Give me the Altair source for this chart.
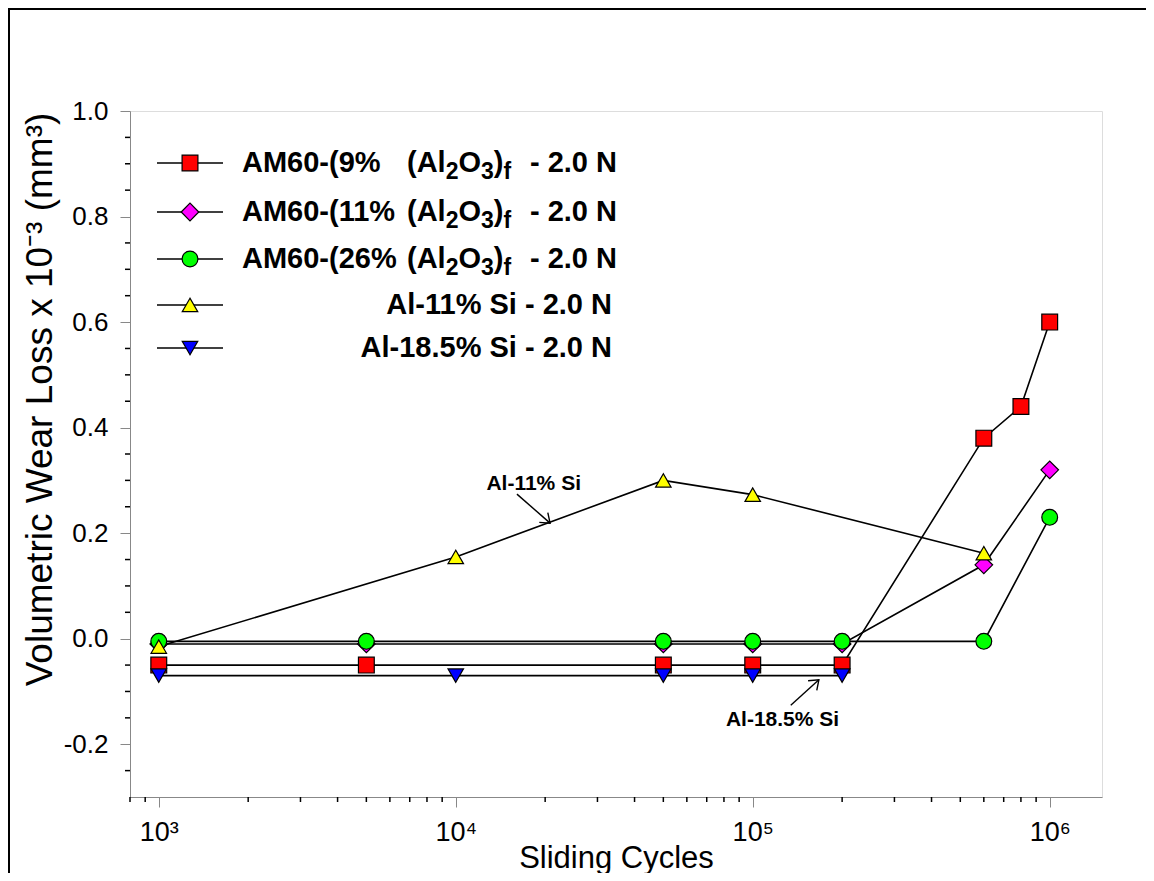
import altair as alt
import pandas as pd

# ---------------- data ----------------
series_keys = ["AM60-9", "AM60-11", "AM60-26", "Al-11Si", "Al-18.5Si"]

am60_9_x = [1e3, 5e3, 5e4, 1e5, 2e5, 6e5, 8e5, 1e6]
am60_9_y = [-0.05, -0.05, -0.05, -0.05, -0.05, 0.38, 0.44, 0.60]
am60_11_x = [1e3, 5e3, 5e4, 1e5, 2e5, 6e5, 1e6]
am60_11_y = [-0.01, -0.01, -0.01, -0.01, -0.01, 0.14, 0.32]
am60_26_x = [1e3, 5e3, 5e4, 1e5, 2e5, 6e5, 1e6]
am60_26_y = [-0.005, -0.005, -0.005, -0.005, -0.005, -0.005, 0.23]
al11_x = [1e3, 1e4, 5e4, 1e5, 6e5]
al11_y = [-0.015, 0.155, 0.30, 0.273, 0.162]
al185_x = [1e3, 1e4, 5e4, 1e5, 2e5]
al185_y = [-0.07, -0.07, -0.07, -0.07, -0.07]

series_x = [am60_9_x, am60_11_x, am60_26_x, al11_x, al185_x]
series_y = [am60_9_y, am60_11_y, am60_26_y, al11_y, al185_y]

x_tick_values = [1e3, 1e4, 1e5, 1e6]
x_tick_labels = ["10³", "10⁴", "10⁵", "10⁶"]
x_minor_ticks = [800, 900, 2000, 3000, 4000, 5000, 6000, 7000, 8000, 9000,
                 20000, 30000, 40000, 50000, 60000, 70000, 80000, 90000,
                 200000, 300000, 400000, 500000, 600000, 700000, 800000, 900000]
y_tick_values = [-0.2, 0.0, 0.2, 0.4, 0.6, 0.8, 1.0]
y_minor_ticks = [-0.25, -0.15, -0.1, -0.05, 0.05, 0.1, 0.15, 0.25, 0.3, 0.35,
                 0.45, 0.5, 0.55, 0.65, 0.7, 0.75, 0.85, 0.9, 0.95]

annot_labels = ["Al-11% Si", "Al-18.5% Si"]
annot_x = [18300, 126000]
annot_y = [0.293, -0.154]
arrow_x1 = [16070, 134300]
arrow_y1 = [0.274, -0.126]
arrow_x2 = [20780, 167000]
arrow_y2 = [0.219, -0.078]
arrow_angle = [41, 318]

# legend text (rows 1-3 have sub-scripted parts)
legend_pct = ["AM60-(9%", "AM60-(11%", "AM60-(26%"]
legend_plain = ["Al-11% Si - 2.0 N", "Al-18.5% Si - 2.0 N"]

# ---------------- styles ----------------
fills = ["#FF0000", "#FF00FF", "#00FF00", "#FFFF00", "#0000FF"]
shapes = ["square", "diamond", "circle", "triangle-up", "triangle-down"]
sizes = [250, 310, 250, 240, 240]

FONT = "Liberation Sans, Arial, Helvetica, sans-serif"
W, H = 972, 686
PAD = {"left": 122, "top": 103, "right": 44, "bottom": 76}

xs = alt.Scale(type="log", domain=[800, 1.5e6], nice=False)
ys = alt.Scale(domain=[-0.3, 1.0], nice=False, zero=False)

label_expr = " : ".join(
    f"datum.value == {v:g} ? '{l}'" for v, l in zip(x_tick_values, x_tick_labels)
) + " : ''"

xaxis = alt.Axis(values=x_tick_values, labelExpr=label_expr, grid=False,
                 tickSize=10, labelFontSize=27, labelFont=FONT, labelPadding=12,
                 labelBaseline="top", labelFlush=False,
                 titleFontSize=31, titleFont=FONT, titleFontWeight="normal",
                 titleX=W / 2, titleY=61, titleBaseline="middle", titleAlign="center")
yaxis = alt.Axis(values=y_tick_values,
                 labelExpr="replace(format(datum.value, '.1f'), '\u2212', '-')",
                 grid=False, tickSize=10, labelFontSize=26, labelFont=FONT,
                 labelPadding=12, labelFlush=False,
                 titleFontSize=37, titleFont=FONT, titleFontWeight="normal",
                 titleAngle=270, titleX=-90, titleY=288, titleAlign="center",
                 titleBaseline="middle")

X_TITLE = "Sliding Cycles"
Y_TITLE = "Volumetric Wear Loss x 10⁻³ (mm³)"


def X(field):
    return alt.X(field, type="quantitative", scale=xs, axis=xaxis, title=X_TITLE)


def Y(field):
    return alt.Y(field, type="quantitative", scale=ys, axis=yaxis, title=Y_TITLE)


layers = []
dummy = pd.DataFrame({"d": [0]})

# outer figure border: its right and bottom edges lie beyond the drawing and are clipped
layers.append(
    alt.Chart(dummy).mark_rect(fillOpacity=0, stroke="black", strokeWidth=2)
    .encode(x=alt.value(-121), x2=alt.value(W + PAD["right"] + 60),
            y=alt.value(-102), y2=alt.value(H + PAD["bottom"] + 60))
)

# minor ticks
layers.append(
    alt.Chart(pd.DataFrame({"x": x_minor_ticks})).mark_rule(color="black", strokeWidth=1.5)
    .encode(x=X("x"), y=alt.value(H), y2=alt.value(H + 5))
)
layers.append(
    alt.Chart(pd.DataFrame({"y": y_minor_ticks})).mark_rule(color="black", strokeWidth=1.5)
    .encode(y=Y("y"), x=alt.value(0), x2=alt.value(-5))
)

# series
for k, xv, yv in zip(series_keys, series_x, series_y):
    df = pd.DataFrame({"x": xv, "y": yv, "series": k})
    layers.append(
        alt.Chart(df).mark_line(color="black", strokeWidth=1.6).encode(x=X("x"), y=Y("y"))
    )
for k, xv, yv, f, s, sz in zip(series_keys, series_x, series_y, fills, shapes, sizes):
    df = pd.DataFrame({"x": xv, "y": yv, "series": k})
    layers.append(
        alt.Chart(df).mark_point(shape=s, filled=True, fill=f, stroke="black",
                                 strokeWidth=1.2, size=sz, opacity=1)
        .encode(x=X("x"), y=Y("y"))
    )

# annotations
adf = pd.DataFrame({"x": annot_x, "y": annot_y, "label": annot_labels})
layers.append(
    alt.Chart(adf).mark_text(font=FONT, fontSize=21, fontWeight="bold", color="black",
                             align="center", baseline="middle")
    .encode(x=X("x"), y=Y("y"), text="label:N")
)
arr = pd.DataFrame({"x": arrow_x1, "y": arrow_y1, "x2": arrow_x2, "y2": arrow_y2,
                    "angle": arrow_angle})
layers.append(
    alt.Chart(arr).mark_rule(color="black", strokeWidth=1.4)
    .encode(x=X("x"), y=Y("y"), x2="x2:Q", y2="y2:Q")
)
layers.append(
    alt.Chart(arr).mark_point(shape="M -1 -0.75 L 0 0 L -1 0.75", filled=False,
                              stroke="black", strokeWidth=1.4, size=300, opacity=1)
    .encode(x=X("x2"), y=Y("y2"), angle=alt.Angle("angle:Q", scale=None))
)

# ---------------- legend (manual) ----------------
row_y = [52, 101, 148, 194, 237]
LX1, LX2, LSYM = 27, 93, 60
TXT_X, AL_X, END_X, END_X2 = 112, 277, 487, 482
FS, SUB_FS, SUB_DY = 29, 23, 7
bold_w = {"(": 0.333, "A": 0.722, "l": 0.278, "2": 0.556, "O": 0.778, "3": 0.556,
          ")": 0.333, "f": 0.333}


def tw(s, fs):
    return sum(bold_w[c] for c in s) * fs


def text_layer(txt, x, y, fs=FS, align="left"):
    return alt.Chart(dummy).mark_text(text=txt, font=FONT, fontSize=fs, fontWeight="bold",
                                      color="black", align=align, baseline="alphabetic") \
        .encode(x=alt.value(x), y=alt.value(y))


for i in range(5):
    yy = row_y[i]
    layers.append(alt.Chart(dummy).mark_rule(color="black", strokeWidth=1.5)
                  .encode(x=alt.value(LX1), x2=alt.value(LX2), y=alt.value(yy)))
    layers.append(alt.Chart(dummy).mark_point(shape=shapes[i], filled=True, fill=fills[i],
                                              stroke="black", strokeWidth=1.2,
                                              size=sizes[i], opacity=1)
                  .encode(x=alt.value(LSYM), y=alt.value(yy)))
    base = yy + 9
    if i < 3:
        layers.append(text_layer(legend_pct[i], TXT_X, base))
        segs = [("(Al", False), ("2", True), ("O", False), ("3", True), (")", False), ("f", True)]
        cx = AL_X
        for s, sub in segs:
            fs = SUB_FS if sub else FS
            layers.append(text_layer(s, cx, base + (SUB_DY if sub else 0), fs=fs))
            cx += tw(s, fs)
        layers.append(text_layer("- 2.0 N", END_X, base, align="right"))
    else:
        layers.append(text_layer(legend_plain[i - 3], END_X2, base, align="right"))

chart = alt.layer(*layers).properties(
    width=W, height=H,
    padding=PAD,
    autosize=alt.AutoSizeParams(type="none"),
).configure_view(stroke="black", strokeWidth=1.5).configure_axis(
    domainColor="black", tickColor="black", labelColor="black", titleColor="black",
    domainWidth=1.5, tickWidth=1.5,
).configure(background="white")

chart.save("out.html", embed_options={"renderer": "svg", "actions": False})
